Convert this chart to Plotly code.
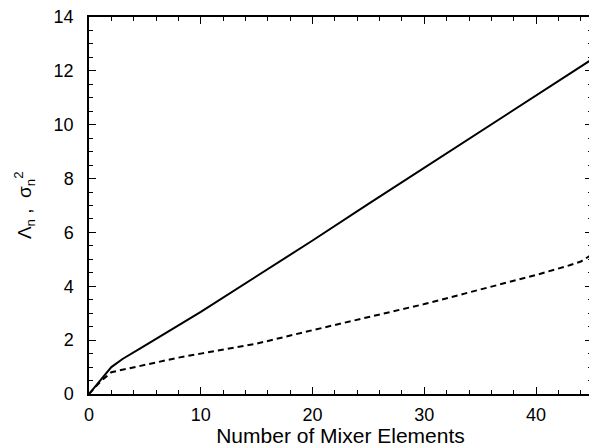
import plotly.graph_objects as go

x_solid = [0, 1, 2, 3, 4, 5, 10, 15, 20, 25, 30, 35, 40, 45]
y_solid = [0, 0.5, 1.0, 1.3, 1.56, 1.8, 3.05, 4.37, 5.7, 7.06, 8.4, 9.74, 11.08, 12.43]

x_dash = [0, 1, 2, 3, 5, 8, 10, 15, 20, 25, 30, 35, 40, 43, 44, 45]
y_dash = [0, 0.45, 0.81, 0.9, 1.1, 1.35, 1.5, 1.87, 2.37, 2.85, 3.34, 3.88, 4.42, 4.78, 4.92, 5.18]

x_ticks = [0, 10, 20, 30, 40]
y_ticks = [0, 2, 4, 6, 8, 10, 12, 14]

FONT = "Liberation Sans, Arial, sans-serif"

fig = go.Figure()
fig.add_trace(go.Scatter(x=x_solid, y=y_solid, mode="lines",
                         line=dict(color="black", width=2), showlegend=False))
fig.add_trace(go.Scatter(x=x_dash, y=y_dash, mode="lines",
                         line=dict(color="black", width=2, dash="6px,4px"), showlegend=False))

axis_common = dict(showline=True, linecolor="black", linewidth=1.5, mirror="ticks",
                   ticks="inside", ticklen=7, tickwidth=1, tickcolor="black",
                   showgrid=False, zeroline=False, ticklabeloverflow="allow",
                   tickfont=dict(family=FONT, size=18, color="black"))

fig.update_xaxes(range=[0, 45], tickvals=x_ticks, ticklabelstandoff=4,
                 minor=dict(dtick=2, ticks="inside", ticklen=4, tickcolor="black", showgrid=False),
                 title=dict(text="Number of Mixer Elements", standoff=6,
                            font=dict(family=FONT, size=21, color="black")),
                 **axis_common)
fig.update_yaxes(range=[0, 14], tickvals=y_ticks, ticklabelstandoff=10,
                 minor=dict(dtick=0.5, ticks="inside", ticklen=4, tickcolor="black", showgrid=False),
                 **axis_common)

# y-axis title as a rotated annotation
fig.add_annotation(text="Λ<sub>n</sub> ,  σ<sub>n</sub><sup>2</sup>", textangle=-90,
                   xref="paper", yref="paper", x=-0.128, y=0.5,
                   xanchor="center", yanchor="middle", showarrow=False,
                   font=dict(family=FONT, size=19, color="black"))

# page body has an 8px margin; compensate so the plot frame lands where the reference's does
fig.update_layout(width=589, height=439, margin=dict(l=81, r=5, t=9, b=53, autoexpand=False),
                  plot_bgcolor="white", paper_bgcolor="white")

fig.write_html("out.html")
